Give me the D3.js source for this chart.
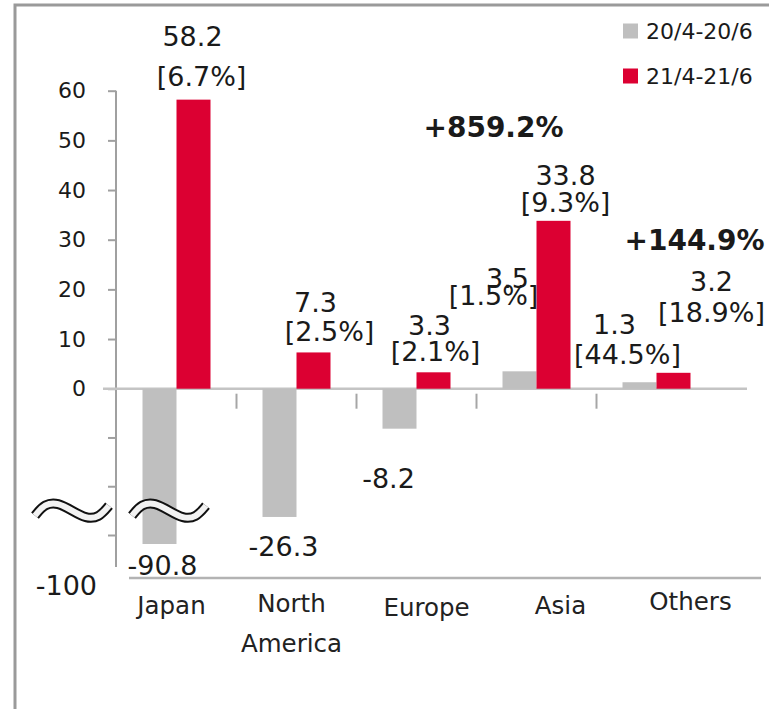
<!DOCTYPE html>
<html lang="en">

<head>
    <meta charset="UTF-8">
    <title>Results by region</title>
    <script src="https://d3js.org/d3.v7.min.js"></script>
    <style>
        body,
        html {
            margin: 0;
            padding: 0;
            background: #fff;
            overflow: hidden;
        }

        text {
            font-family: "DejaVu Sans", Verdana, sans-serif;
            fill: #1a1a1a;
        }

        .tick-label {
            font-size: 22px;
        }

        .data-label {
            font-size: 27px;
            text-anchor: middle;
        }

        .growth {
            font-size: 28px;
            font-weight: bold;
            text-anchor: middle;
        }

        .cat-label {
            font-size: 24.5px;
            text-anchor: middle;
            fill: #222;
        }
    </style>
</head>

<body>
    <svg width="769" height="709" id="chart"></svg>
    <script>
        // data
        const categories = ["Japan", "North America", "Europe", "Asia", "Others"];
        const series = ["20/4-20/6", "21/4-21/6"];
        const prevValues = [-90.8, -26.3, -8.2, 3.5, 1.3];
        const currValues = [58.2, 7.3, 3.3, 33.8, 3.2];
        const prevShares = [null, null, null, "1.5%", "44.5%"];
        const currShares = ["6.7%", "2.5%", "2.1%", "9.3%", "18.9%"];
        const growthNotes = ["", "", "", "+859.2%", "+144.9%"];
        const yTicks = [60, 50, 40, 30, 20, 10, 0, -10, -20, -30, -100];
        const colors = ["#bfbfbf", "#dc0032"];

        // hand placed label nudges (px) from bar centre / bar end, like the original
        const prevLabelPos = [
            { num: [3, 21] }, { num: [4, 29] }, { num: [-11, 50] },
            { num: [-12, -93], pct: [-26, -75] }, { num: [-25, -58], pct: [-12, -27] }
        ];
        const currLabelPos = [
            { num: [-1, -63], pct: [8, -23] }, { num: [2, -50], pct: [16, -20] },
            { num: [-4, -47], pct: [2, -20] }, { num: [12, -46], pct: [12, -18] },
            { num: [38, -92], pct: [38, -60] }
        ];
        const growthPos = [null, null, null, [-43, 127], [38, 240]];
        const catLabelPos = [[-5, 605], [-5, 603], [10, 607], [24, 605], [34, 601]];

        const fmt = v => v.toFixed(1); // plain hyphen minus, as in the original

        const svg = d3.select("#chart");

        // outer frame (only left and top edges show in the crop)
        svg.append("path")
            .attr("d", "M15,709 V5 H769")
            .attr("fill", "none")
            .attr("stroke", "#9a9a9a")
            .attr("stroke-width", 3);

        const x = d3.scaleBand()
            .domain(categories)
            .range([116.5, 716.5]);

        const barW = 34;
        const xs = d3.scaleBand()
            .domain(series)
            .range([-barW, barW]);

        // broken axis: linear from -30 to 60, the rest squeezed below the break
        const y = d3.scaleLinear()
            .domain([-100, -90.8, -30, 0, 60])
            .range([567, 544, 535, 388.7, 90.7]);

        // y axis
        const yAxis = svg.append("g")
            .attr("transform", "translate(116,0)")
            .call(d3.axisLeft(y)
                .tickValues(yTicks)
                .tickSize(8)
                .tickPadding(22)
                .tickFormat(d => (d >= 0 || d === -100) ? String(d) : ""));

        yAxis.attr("font-size", null).attr("font-family", null);
        yAxis.select(".domain")
            .attr("d", `M0,${y(60)} V${y(-100)}`)
            .attr("stroke", "#a0a0a0")
            .attr("stroke-width", 2);
        yAxis.selectAll(".tick line")
            .attr("stroke", "#a0a0a0")
            .attr("stroke-width", 2);
        yAxis.selectAll(".tick text")
            .attr("class", "tick-label")
            .attr("fill", "#1a1a1a");
        const bottomTick = yAxis.selectAll(".tick").filter(d => d === -100);
        bottomTick.select("line").remove();
        bottomTick.select("text")
            .attr("class", "data-label")
            .style("text-anchor", "end")
            .attr("x", -19)
            .attr("y", 19);

        // zero line
        svg.append("line")
            .attr("x1", 103).attr("x2", 747)
            .attr("y1", y(0)).attr("y2", y(0))
            .attr("stroke", "#c4c4c4")
            .attr("stroke-width", 2.5);

        // bottom category line
        svg.append("line")
            .attr("x1", 129).attr("x2", 761)
            .attr("y1", 578).attr("y2", 578)
            .attr("stroke", "#b3b3b3")
            .attr("stroke-width", 2.5);

        // small separators between categories
        svg.selectAll(".sep")
            .data(categories.slice(1))
            .enter()
            .append("line")
            .attr("class", "sep")
            .attr("x1", d => x(d)).attr("x2", d => x(d))
            .attr("y1", y(0) + 5).attr("y2", y(0) + 20)
            .attr("stroke", "#a6a6a6")
            .attr("stroke-width", 2);

        // bars
        const rows = categories.map((c, i) => ({
            cat: c, i: i,
            vals: [prevValues[i], currValues[i]],
            shares: [prevShares[i], currShares[i]]
        }));

        const groups = svg.selectAll(".cat")
            .data(rows)
            .enter()
            .append("g")
            .attr("class", "cat")
            .attr("transform", d => `translate(${x(d.cat) + x.bandwidth() / 2},0)`);

        groups.selectAll("rect")
            .data(d => d.vals.map((v, k) => ({ v: v, k: k })))
            .enter()
            .append("rect")
            .attr("x", d => xs(series[d.k]))
            .attr("width", xs.bandwidth())
            .attr("y", d => Math.min(y(d.v), y(0)))
            .attr("height", d => Math.abs(y(d.v) - y(0)))
            .attr("fill", d => colors[d.k]);

        // data labels
        function addLabels(g, d, k, pos) {
            const v = d.vals[k];
            const cx = xs(series[k]) + xs.bandwidth() / 2;
            const end = y(v);
            const p = pos[d.i];
            g.append("text")
                .attr("class", "data-label")
                .attr("x", cx + p.num[0])
                .attr("y", end + p.num[1])
                .attr("dy", "0.36em")
                .text(fmt(v));
            if (d.shares[k]) {
                g.append("text")
                    .attr("class", "data-label")
                    .attr("x", cx + p.pct[0])
                    .attr("y", end + p.pct[1])
                    .attr("dy", "0.33em")
                    .text(`[${d.shares[k]}]`);
            }
        }

        groups.each(function (d) {
            const g = d3.select(this);
            addLabels(g, d, 0, prevLabelPos);
            addLabels(g, d, 1, currLabelPos);
            if (growthNotes[d.i]) {
                g.append("text")
                    .attr("class", "growth")
                    .attr("x", growthPos[d.i][0])
                    .attr("y", growthPos[d.i][1])
                    .attr("dy", "0.36em")
                    .text(growthNotes[d.i]);
            }
        });

        // category labels (North America wraps)
        svg.selectAll(".cat-label")
            .data(categories)
            .enter()
            .append("text")
            .attr("class", "cat-label")
            .attr("x", (d, i) => x(d) + x.bandwidth() / 2 + catLabelPos[i][0])
            .attr("y", (d, i) => catLabelPos[i][1])
            .each(function (d) {
                const words = d.split(" ");
                const t = d3.select(this);
                words.forEach((w, j) => {
                    t.append("tspan")
                        .attr("x", t.attr("x"))
                        .attr("dy", j === 0 ? "0.36em" : "1.65em")
                        .text(w);
                });
            });

        // axis break marks
        const wave = d3.line().curve(d3.curveBasis);
        function breakMark(cx, cy) {
            const pts = [[-37, 5], [-27, -7], [-14, -8], [0, 0], [14, 8], [27, 7], [37, -5]]
                .map(p => [cx + p[0], cy + p[1]]);
            svg.append("path").attr("d", wave(pts))
                .attr("fill", "none").attr("stroke", "#111").attr("stroke-width", 10);
            svg.append("path").attr("d", wave(pts))
                .attr("fill", "none").attr("stroke", "#f2f2f2").attr("stroke-width", 6);
        }
        const yBreak = (y(-20) + y(-30)) / 2;
        breakMark(72, yBreak);
        breakMark(169, yBreak);

        // legend
        const legend = svg.append("g").attr("transform", "translate(623,0)");
        series.forEach((s, k) => {
            const ly = 31 + k * 45;
            legend.append("rect")
                .attr("x", 0).attr("y", ly - 7.5)
                .attr("width", 15).attr("height", 15)
                .attr("fill", colors[k]);
            legend.append("text")
                .attr("class", "tick-label")
                .attr("x", 23).attr("y", ly)
                .attr("dy", "0.36em")
                .text(s);
        });
    </script>
</body>

</html>
